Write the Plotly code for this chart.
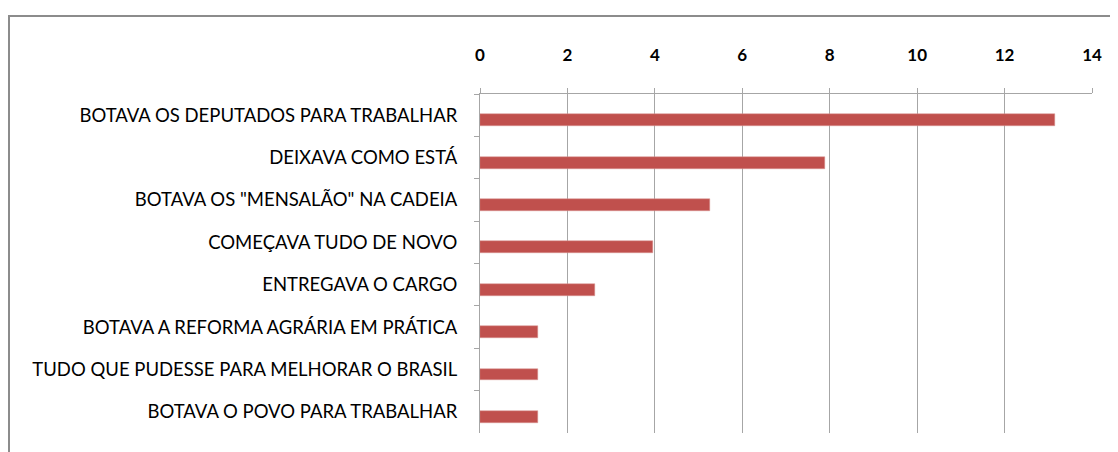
import plotly.graph_objects as go

categories = [
    "BOTAVA OS DEPUTADOS PARA TRABALHAR",
    "DEIXAVA COMO ESTÁ",
    'BOTAVA OS "MENSALÃO" NA CADEIA',
    "COMEÇAVA TUDO DE NOVO",
    "ENTREGAVA O CARGO",
    "BOTAVA A REFORMA AGRÁRIA EM PRÁTICA",
    "TUDO QUE PUDESSE PARA MELHORAR O BRASIL",
    "BOTAVA O POVO PARA TRABALHAR",
]
values = [13.16, 7.89, 5.26, 3.95, 2.63, 1.32, 1.32, 1.32]
x_ticks = [0, 2, 4, 6, 8, 10, 12, 14]

# page body has an 8px default margin, so the figure sits 8px right/down
W, H = 1118, 452
ml, mr, mt, mb = 472, 34, 86, 27
pw, ph = W - ml - mr, H - mt - mb

fig = go.Figure()
fig.add_trace(go.Bar(
    y=categories, x=values, orientation="h",
    marker=dict(color="#C0504D", line=dict(color="#D99694", width=0.5)),
    width=0.28, offset=-0.02,
))

# outer chart border (Excel chart area)
fig.add_shape(
    type="rect", xref="paper", yref="paper",
    x0=(1 - ml) / pw, x1=(W + 5 - ml) / pw,
    y0=-(mb + 5) / ph, y1=1 + (mt - 8) / ph,
    line=dict(color="#8C8C8C", width=2), fillcolor="rgba(0,0,0,0)",
    layer="below",
)

fig.update_layout(
    width=W, height=H,
    margin=dict(l=ml, r=mr, t=mt, b=mb, autoexpand=False),
    paper_bgcolor="white", plot_bgcolor="white",
    font=dict(family="Lato", size=18.5, color="black"),
    showlegend=False,
    bargap=0,
    xaxis=dict(
        side="top", range=[0, 14], tickvals=x_ticks, automargin=False,
        showgrid=True, gridcolor="#A6A6A6", gridwidth=1,
        showline=True, linecolor="#A6A6A6", linewidth=1,
        ticks="outside", ticklen=5, tickcolor="#A6A6A6",
        tickfont=dict(family="Lato", size=17, color="black", weight="bold"),
        ticklabelstandoff=20, zeroline=False,
    ),
    yaxis=dict(
        autorange="reversed", categoryorder="array", categoryarray=categories,
        automargin=False,
        showline=True, linecolor="#A6A6A6", linewidth=1,
        ticks="outside", ticklen=5, tickcolor="#A6A6A6", tickson="boundaries",
        ticklabelstandoff=18, showgrid=False,
    ),
)

fig.write_html("out.html")
